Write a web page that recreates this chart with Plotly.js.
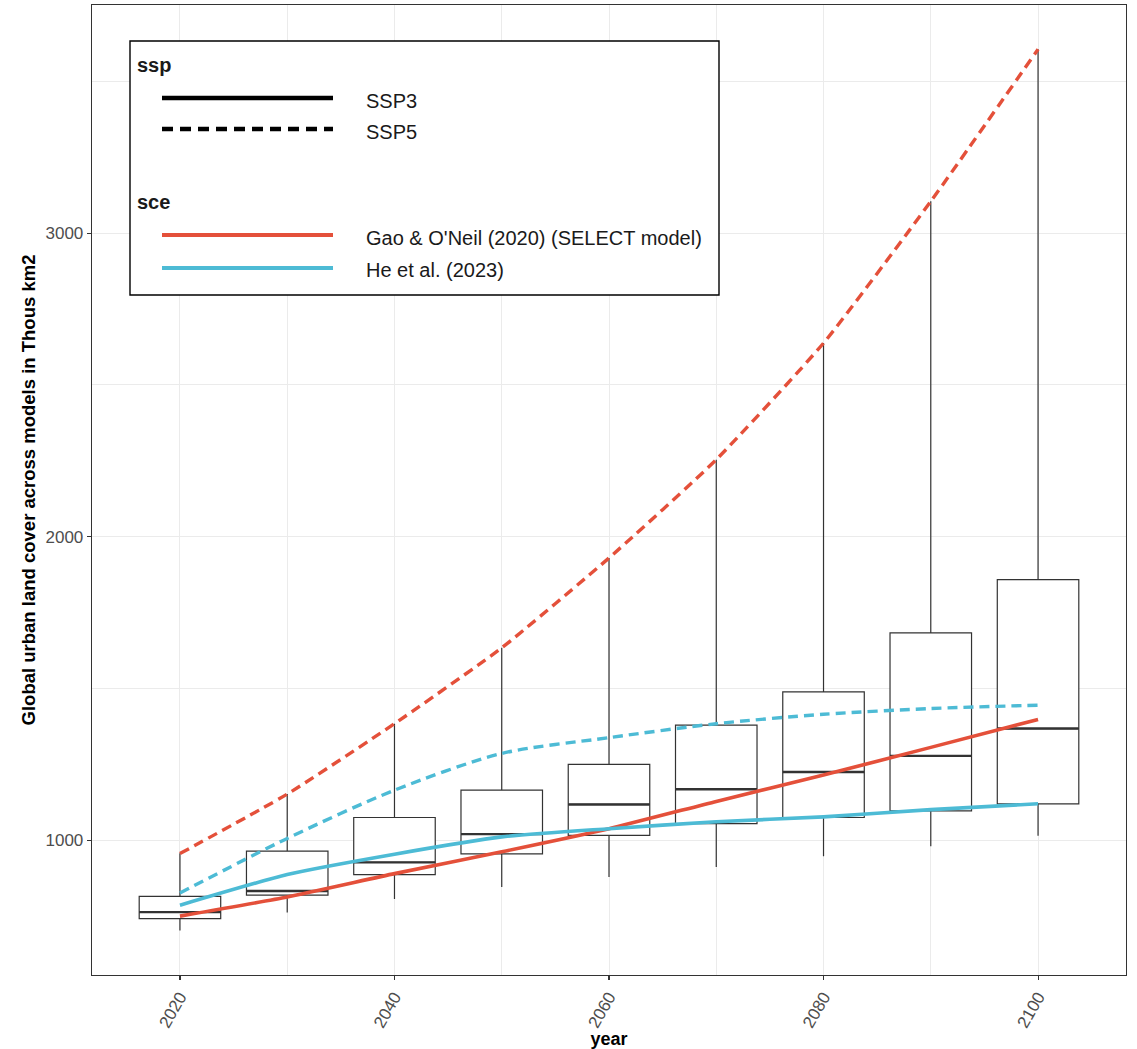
<!DOCTYPE html>
<html>
<head>
<meta charset="utf-8">
<script src="https://cdn.plot.ly/plotly-3.0.1.min.js"></script>
<style>
html,body{margin:0;padding:0;background:#fff;}
#chart{width:1137px;height:1049px;}
</style>
</head>
<body>
<div id="chart"></div>
<script>
// ---- data ----
const years = [2020, 2030, 2040, 2050, 2060, 2070, 2080, 2090, 2100];

// box plot statistics across models (Thous km2)
const boxLow    = [703, 762, 806, 846, 879, 912, 947, 980, 1015];
const boxQ1     = [742, 819, 887, 955, 1016, 1055, 1075, 1097, 1120];
const boxMedian = [763, 833, 927, 1020, 1118, 1168, 1225, 1278, 1368];
const boxQ3     = [815, 964, 1075, 1165, 1250, 1379, 1489, 1683, 1859];
const boxHigh   = [957, 1152, 1384, 1634, 1930, 2254, 2638, 3105, 3606];

// scenario lines
const gaoSSP3 = [750, 813, 890, 962, 1038, 1128, 1215, 1306, 1398];
const heSSP3  = [786, 887, 954, 1011, 1038, 1061, 1077, 1101, 1120];
const gaoSSP5 = [956, 1152, 1384, 1634, 1930, 2254, 2638, 3105, 3606];
const heSSP5  = [826, 1006, 1165, 1286, 1338, 1384, 1415, 1434, 1445];

const xTicks = [2020, 2040, 2060, 2080, 2100];
const yTicks = [1000, 2000, 3000];

const sspNames = ['SSP3', 'SSP5'];
const sceNames = ["Gao & O'Neil (2020) (SELECT model)", 'He et al. (2023)'];
const sspTitle = 'ssp';
const sceTitle = 'sce';
const xTitle = 'year';
const yTitle = 'Global urban land cover across models in Thous km2';

// ---- styles ----
const RED = '#E4503A';
const BLUE = '#4DBBD5';
const FONT = 'Liberation Sans, Arial, Helvetica, sans-serif';
const GRID = '#EBEBEB';

const traces = [
  {
    type: 'box',
    x: years,
    q1: boxQ1,
    median: boxMedian,
    q3: boxQ3,
    lowerfence: boxLow,
    upperfence: boxHigh,
    width: 7.6,
    whiskerwidth: 0,
    boxpoints: false,
    fillcolor: 'white',
    line: {color: '#333333', width: 1.2},
    hoverinfo: 'skip',
    showlegend: false
  },
  {
    type: 'scatter',
    mode: 'markers',
    x: years,
    y: boxMedian,
    marker: {symbol: 'line-ew', size: 58.2, color: '#333333', line: {color: '#333333', width: 2.4}},
    hoverinfo: 'skip',
    showlegend: false
  },
  {
    type: 'scatter', mode: 'lines', x: years, y: gaoSSP3,
    line: {color: RED, width: 3.6, shape: 'spline', smoothing: 0.5},
    hoverinfo: 'skip', showlegend: false
  },
  {
    type: 'scatter', mode: 'lines', x: years, y: heSSP3,
    line: {color: BLUE, width: 3.6, shape: 'spline', smoothing: 0.6},
    hoverinfo: 'skip', showlegend: false
  },
  {
    type: 'scatter', mode: 'lines', x: years, y: gaoSSP5,
    line: {color: RED, width: 3.4, dash: '10px,6px', shape: 'spline', smoothing: 0.5},
    hoverinfo: 'skip', showlegend: false
  },
  {
    type: 'scatter', mode: 'lines', x: years, y: heSSP5,
    line: {color: BLUE, width: 3.4, dash: '10px,6px', shape: 'spline', smoothing: 0.8},
    hoverinfo: 'skip', showlegend: false
  }
];

// plot area in pixels (for the hand-drawn legend)
const PL = 92, PR = 1126, PT = 5, PB = 975;
const px = v => (v - PL) / (PR - PL);
const py = v => (PB - v) / (PB - PT);

const shapes = [
  {type: 'rect', xref: 'paper', yref: 'paper', x0: px(130), x1: px(719), y0: py(41), y1: py(295),
   line: {color: '#000', width: 1.4}, fillcolor: 'white', layer: 'above'},
  {type: 'line', xref: 'paper', yref: 'paper', x0: px(162), x1: px(333), y0: py(98), y1: py(98),
   line: {color: '#000', width: 4.4}},
  {type: 'line', xref: 'paper', yref: 'paper', x0: px(162), x1: px(333), y0: py(129), y1: py(129),
   line: {color: '#000', width: 4.4, dash: '11px,7px'}},
  {type: 'line', xref: 'paper', yref: 'paper', x0: px(162), x1: px(333), y0: py(235), y1: py(235),
   line: {color: RED, width: 4.2}},
  {type: 'line', xref: 'paper', yref: 'paper', x0: px(162), x1: px(333), y0: py(268), y1: py(268),
   line: {color: BLUE, width: 4.2}}
];

const legFont = {family: FONT, size: 20, color: '#1a1a1a'};
const annotations = [
  {text: '<b>' + sspTitle + '</b>', x: px(135), y: py(65)},
  {text: sspNames[0], x: px(364), y: py(101)},
  {text: sspNames[1], x: px(364), y: py(132)},
  {text: '<b>' + sceTitle + '</b>', x: px(135), y: py(202)},
  {text: sceNames[0], x: px(364), y: py(238)},
  {text: sceNames[1], x: px(364), y: py(270)}
].map(a => Object.assign({
  xref: 'paper', yref: 'paper', xanchor: 'left', yanchor: 'middle',
  showarrow: false, font: legFont
}, a));

const layout = {
  width: 1137, height: 1049,
  margin: {l: PL, r: 1137 - PR, t: PT, b: 1049 - PB},
  paper_bgcolor: 'white', plot_bgcolor: 'white',
  showlegend: false,
  font: {family: FONT},
  xaxis: {
    range: [2011.8, 2108.2],
    tickmode: 'array', tickvals: xTicks, ticktext: xTicks.map(String),
    tickangle: -60,
    ticks: 'outside', ticklen: 4, tickwidth: 1.1, tickcolor: '#333333',
    tickfont: {family: FONT, size: 17, color: '#4D4D4D'},
    showline: true, mirror: true, linecolor: '#333333', linewidth: 1.3,
    showgrid: true, gridcolor: GRID, gridwidth: 1,
    minor: {tick0: 2030, dtick: 20, showgrid: true, gridcolor: GRID, gridwidth: 1},
    zeroline: false,
    title: {text: '<b>' + xTitle + '</b>', font: {family: FONT, size: 18, color: '#000'}, standoff: 1}
  },
  yaxis: {
    range: [556, 3752],
    tickmode: 'array', tickvals: yTicks, ticktext: yTicks.map(String),
    ticks: 'outside', ticklen: 4, tickwidth: 1.1, tickcolor: '#333333',
    tickfont: {family: FONT, size: 17, color: '#4D4D4D'},
    showline: true, mirror: true, linecolor: '#333333', linewidth: 1.3,
    showgrid: true, gridcolor: GRID, gridwidth: 1,
    minor: {tick0: 500, dtick: 1000, showgrid: true, gridcolor: GRID, gridwidth: 1},
    zeroline: false,
    title: {text: '<b>' + yTitle + '</b>', font: {family: FONT, size: 18.5, color: '#000'}, standoff: 5}
  },
  shapes: shapes,
  annotations: annotations
};

Plotly.newPlot('chart', traces, layout, {staticPlot: true, displayModeBar: false});
</script>
</body>
</html>
